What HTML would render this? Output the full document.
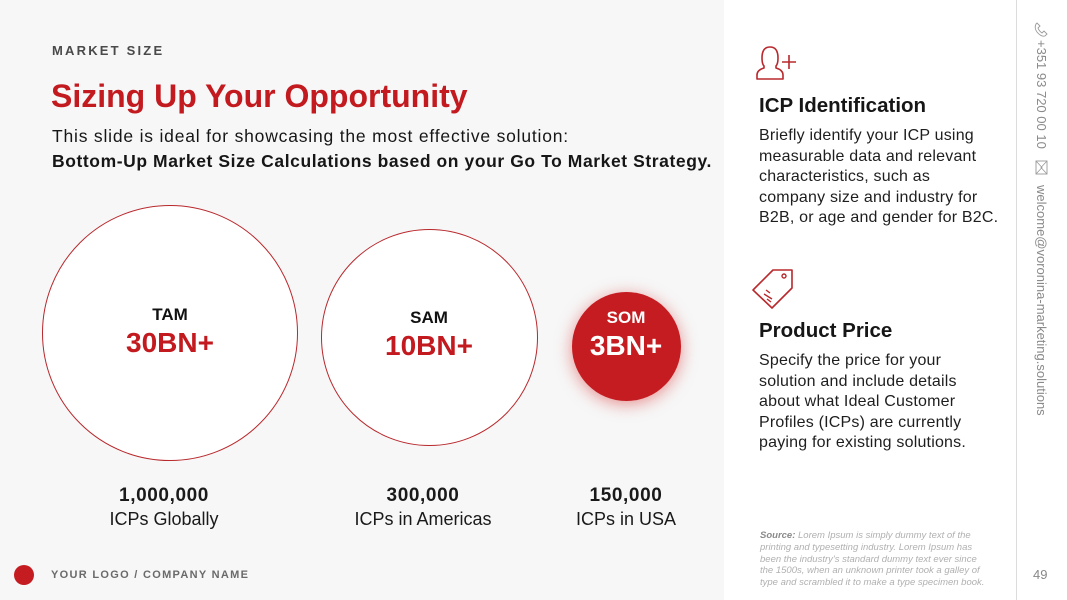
<!DOCTYPE html>
<html><head><meta charset="utf-8"><style>
*{margin:0;padding:0;box-sizing:border-box}
body{width:1067px;height:600px;position:relative;overflow:hidden;background:#fff;font-family:"Liberation Sans",sans-serif;color:#1a1a1a}
.left{position:absolute;left:0;top:0;width:724px;height:600px;background:#f7f7f7}
.abs{position:absolute;white-space:nowrap}
.circ{position:absolute;border-radius:50%;background:#fff;border:1.3px solid #b8282c}
.c{text-align:center;transform:translateX(-50%)}
.body{font-size:16px;letter-spacing:0.2px;line-height:20.5px;color:#1e1e1e}
</style></head><body>
<div class="left"></div>

<div class="abs" style="left:52px;top:43px;font-size:13px;font-weight:bold;letter-spacing:2.2px;color:#4a4a4a;line-height:16px">MARKET SIZE</div>
<div class="abs" style="left:51px;top:76px;font-size:32px;font-weight:bold;color:#c21a1f;line-height:40px;letter-spacing:0px">Sizing Up Your Opportunity</div>
<div class="abs" style="left:52px;top:124px;font-size:17.5px;line-height:25px;color:#161616;letter-spacing:0.8px">This slide is ideal for showcasing the most effective solution:</div>
<div class="abs" style="left:52px;top:149px;font-size:17.5px;line-height:25px;color:#161616;letter-spacing:0.58px;font-weight:bold">Bottom-Up Market Size Calculations based on your Go To Market Strategy.</div>

<div class="circ" style="left:42px;top:205px;width:256px;height:256px"></div>
<div class="circ" style="left:321px;top:229px;width:217px;height:217px"></div>
<div style="position:absolute;left:572px;top:292px;width:109px;height:109px;border-radius:50%;background:#c41c21;box-shadow:0 3px 16px rgba(215,40,40,0.5)"></div>

<div class="abs c" style="left:170px;top:305px;font-size:17px;font-weight:bold;line-height:20px;color:#111">TAM</div>
<div class="abs c" style="left:170px;top:326px;font-size:28px;font-weight:bold;line-height:34px;color:#c21a1f">30BN+</div>
<div class="abs c" style="left:429px;top:308px;font-size:17px;font-weight:bold;line-height:20px;color:#111">SAM</div>
<div class="abs c" style="left:429px;top:329px;font-size:28px;font-weight:bold;line-height:34px;color:#c21a1f">10BN+</div>
<div class="abs c" style="left:626px;top:308px;font-size:17px;font-weight:bold;line-height:20px;color:#fff">SOM</div>
<div class="abs c" style="left:626px;top:329px;font-size:28px;font-weight:bold;line-height:34px;color:#fff">3BN+</div>

<div class="abs c" style="left:164px;top:485px;font-size:19px;font-weight:bold;line-height:22px;letter-spacing:0.6px">1,000,000</div>
<div class="abs c" style="left:164px;top:508px;font-size:18px;line-height:22px">ICPs Globally</div>
<div class="abs c" style="left:423px;top:485px;font-size:19px;font-weight:bold;line-height:22px;letter-spacing:0.6px">300,000</div>
<div class="abs c" style="left:423px;top:508px;font-size:18px;line-height:22px">ICPs in Americas</div>
<div class="abs c" style="left:626px;top:485px;font-size:19px;font-weight:bold;line-height:22px;letter-spacing:0.6px">150,000</div>
<div class="abs c" style="left:626px;top:508px;font-size:18px;line-height:22px">ICPs in USA</div>

<div style="position:absolute;left:14px;top:565px;width:20px;height:20px;border-radius:50%;background:#c41c21"></div>
<div class="abs" style="left:51px;top:568px;font-size:11px;font-weight:bold;letter-spacing:1.3px;color:#6a6a6a;line-height:14px">YOUR LOGO / COMPANY NAME</div>

<!-- right panel -->
<svg style="position:absolute;left:0;top:0" width="1067" height="600">
  <path d="M757,79 L757,75 Q757,70 764,68 L764,66 Q762,64 762,58 Q762,47 770,47 Q778,47 778,58 Q778,64 776,66 L776,68 Q783,70 783,75 L783,79 Z" fill="none" stroke="#b8282c" stroke-width="1.6" stroke-linejoin="round"/>
  <path d="M789,55 L789,69 M782,62 L796,62" stroke="#b8282c" stroke-width="1.6"/>
  <path d="M753,290 L773,270 L792,270 L792,288 L772,308 Z" fill="none" stroke="#b8282c" stroke-width="1.6" stroke-linejoin="round"/>
  <circle cx="784" cy="276" r="2" fill="none" stroke="#b8282c" stroke-width="1.4"/>
  <path d="M766,290 L770,293 M764,294 L772,299 M767,299 L771,302" stroke="#b8282c" stroke-width="1.4"/>
  <line x1="1016.5" y1="0" x2="1016.5" y2="600" stroke="#dcdcdc" stroke-width="1"/>
  <path d="M1036,24 Q1034,28 1037,32 Q1041,37 1045,36 L1047,34 L1044,31 L1042,33 Q1039,31 1038,28 L1040,26 L1037,23 Z" fill="none" stroke="#999" stroke-width="0.9"/>
  <rect x="1036" y="161" width="11" height="13" fill="none" stroke="#999" stroke-width="0.9"/>
  <path d="M1036,161 L1042,167.5 L1036,174 M1047,161 L1041,167.5 L1047,174" fill="none" stroke="#999" stroke-width="0.8"/>
</svg>

<div class="abs" style="left:759px;top:93px;font-size:20.5px;font-weight:bold;line-height:26px;color:#161616">ICP Identification</div>
<div class="abs body" style="left:759px;top:126px">Briefly identify your ICP using<br>measurable data and relevant<br>characteristics, such as<br>company size and industry for<br>B2B, or age and gender for B2C.</div>

<div class="abs" style="left:759px;top:318px;font-size:20.5px;font-weight:bold;line-height:26px;color:#161616">Product Price</div>
<div class="abs body" style="left:759px;top:351px">Specify the price for your<br>solution and include details<br>about what Ideal Customer<br>Profiles (ICPs) are currently<br>paying for existing solutions.</div>

<div class="abs" style="left:760px;top:530px;font-size:9.5px;font-style:italic;line-height:11.8px;color:#b0b0b0"><b style="color:#8a8a8a">Source:</b> Lorem Ipsum is simply dummy text of the<br>printing and typesetting industry. Lorem Ipsum has<br>been the industry's standard dummy text ever since<br>the 1500s, when an unknown printer took a galley of<br>type and scrambled it to make a type specimen book.</div>

<div class="abs" style="left:1033px;top:567px;font-size:13px;color:#888;line-height:16px">49</div>

<div class="abs" style="left:1033px;top:40px;writing-mode:vertical-rl;font-size:13px;color:#8a8a8a;line-height:16px">+351 93 720 00 10</div>
<div class="abs" style="left:1033px;top:185px;writing-mode:vertical-rl;font-size:13px;color:#8a8a8a;line-height:16px">welcome@voronina-marketing.solutions</div>
</body></html>
